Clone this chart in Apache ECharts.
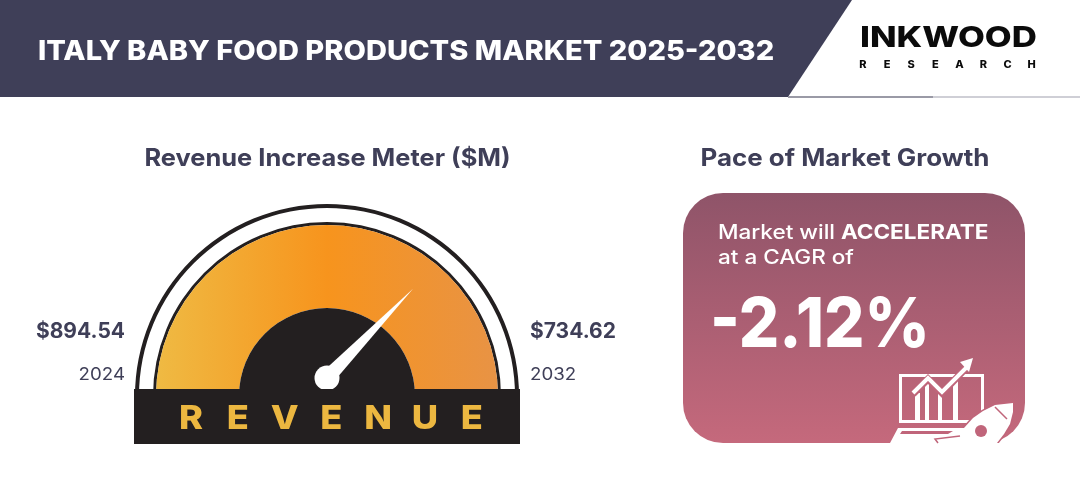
<!DOCTYPE html>
<html>
<head>
    <meta charset="utf-8">
    <title>Italy Baby Food Products Market 2025-2032</title>
    <script src="https://cdn.jsdelivr.net/npm/echarts@6/dist/echarts.min.js"></script>
    <style>
        html, body { margin: 0; padding: 0; background: #fff; }
        #chart { width: 1080px; height: 500px; }
    </style>
</head>
<body>
<div id="chart"></div>
<script type="text/javascript">
    // data
    var years = ['2024', '2032'];
    var revenueValues = [894.54, 734.62];
    var cagrValue = [-2.12];
    var needleValue = [74.4]; // position on the 0-100 meter

    var mainTitle = 'ITALY BABY FOOD PRODUCTS MARKET 2025-2032';
    var meterTitle = 'Revenue Increase Meter ($M)';
    var paceTitle = 'Pace of Market Growth';
    var meterWord = 'REVENUE';
    var logoSmall = 'RESEARCH';

    var dark = '#231f20';
    var slate = '#3f3f58';
    var rose = '#c0657a';
    var font = 'Inter';

    var myChart = echarts.init(document.getElementById('chart'));

    // text helper, the scale stretches Inter out to the wider look of the original
    function label(x, y, text, size, weight, color, align, z, scale) {
        return {
            type: 'text', z: z || 5, silent: true,
            x: x, y: y, scaleX: scale || 1,
            style: {
                x: 0, y: 0, text: text, fill: color, align: align || 'left', verticalAlign: 'middle',
                fontFamily: font, fontSize: size, fontWeight: weight
            }
        };
    }

    // one meter arc of the gauge, the shared bits
    function arc(radius, width, color, z) {
        return {
            type: 'gauge',
            center: [327, 396],
            radius: radius,
            startAngle: 180,
            endAngle: 0,
            min: 0,
            max: 100,
            z: z,
            silent: true,
            axisLine: { show: true, lineStyle: { width: width, color: [[1, color]] } },
            axisTick: { show: false },
            splitLine: { show: false },
            axisLabel: { show: false },
            pointer: { show: false },
            anchor: { show: false },
            title: { show: false },
            detail: { show: false },
            data: [{ value: needleValue[0] }]
        };
    }

    var rocket = [[960, 443], [964, 428], [973, 418], [983, 411], [995, 405], [1013, 403], [1013, 412], [1010, 424], [1004, 434], [997, 443]];

    var graphics = [
        // header band
        { type: 'polygon', z: 1, silent: true, shape: { points: [[0, 0], [852, 0], [788, 97], [0, 97]] }, style: { fill: slate } },
        { type: 'rect', z: 1, silent: true, shape: { x: 788, y: 96, width: 145, height: 2 }, style: { fill: '#9a9aa6' } },
        { type: 'rect', z: 1, silent: true, shape: { x: 933, y: 96, width: 147, height: 2 }, style: { fill: '#cfcfd6' } },
        label(38, 52, mainTitle, 27, 800, '#fff', 'left', 5, 1.075),
        label(860, 38, 'INKWOOD', 29, 800, '#0b0b0b', 'left', 5, 1.2),

        label(327.5, 159, meterTitle, 24, 700, slate, 'center', 5, 1.06),
        label(845, 159, paceTitle, 24, 700, slate, 'center', 5, 1.08),

        // revenue labels either side of the meter
        label(125, 332, '$' + revenueValues[0].toFixed(2), 21, 700, slate, 'right'),
        label(125, 375, years[0], 17, 400, slate, 'right', 5, 1.1),
        label(530, 332, '$' + revenueValues[1].toFixed(2), 21, 700, slate, 'left'),
        label(530, 375, years[1], 17, 400, slate, 'left', 5, 1.1),

        // black bar under the meter
        { type: 'rect', z: 20, silent: true, shape: { x: 134, y: 389, width: 386, height: 55 }, style: { fill: dark } },

        // growth panel
        {
            type: 'rect', z: 1, silent: true,
            shape: { x: 683, y: 193, width: 342, height: 250, r: 40 },
            style: {
                fill: new echarts.graphic.LinearGradient(0, 0, 0, 1, [
                    { offset: 0, color: '#8f5469' },
                    { offset: 1, color: '#c5697c' }
                ])
            }
        },
        {
            type: 'text', z: 5, silent: true,
            x: 718, y: 233, scaleX: 1.125,
            style: {
                x: 0, y: 0, text: '{a|Market will }{b|ACCELERATE}',
                verticalAlign: 'middle', fill: '#fff', fontFamily: font, fontSize: 20,
                rich: {
                    a: { fontFamily: font, fontSize: 20, fontWeight: 500, fill: '#fff' },
                    b: { fontFamily: font, fontSize: 20, fontWeight: 700, fill: '#fff' }
                }
            }
        },
        label(718, 258, 'at a CAGR of', 20, 500, '#fff', 'left', 5, 1.125),
        label(710, 326, cagrValue[0].toFixed(2) + '%', 69, 800, '#fff', 'left', 5, 0.92),

        // laptop and rocket icon
        { type: 'rect', z: 3, silent: true, shape: { x: 900.5, y: 375.5, width: 82, height: 46 }, style: { fill: 'none', stroke: '#fff', lineWidth: 3 } },
        { type: 'rect', z: 3, silent: true, shape: { x: 915, y: 393, width: 5, height: 27 }, style: { fill: '#fff' } },
        { type: 'rect', z: 3, silent: true, shape: { x: 925, y: 382, width: 4, height: 38 }, style: { fill: '#fff' } },
        { type: 'rect', z: 3, silent: true, shape: { x: 938, y: 390, width: 4, height: 30 }, style: { fill: '#fff' } },
        { type: 'rect', z: 3, silent: true, shape: { x: 953, y: 376, width: 5, height: 44 }, style: { fill: '#fff' } },
        { type: 'polyline', z: 4, silent: true, shape: { points: [[913, 394], [928, 379], [942, 393], [967, 367]] }, style: { fill: 'none', stroke: rose, lineWidth: 7 } },
        { type: 'polyline', z: 4, silent: true, shape: { points: [[913, 393], [928, 378], [942, 392], [967, 367]] }, style: { fill: 'none', stroke: '#fff', lineWidth: 4 } },
        { type: 'polygon', z: 4, silent: true, shape: { points: [[973, 358], [960, 362], [969, 372]] }, style: { fill: '#fff' } },
        // rocket halo cuts into the screen, the base goes over it
        { type: 'polygon', z: 4, silent: true, shape: { points: rocket }, style: { fill: rose, stroke: rose, lineWidth: 3 } },
        { type: 'rect', z: 5, silent: true, shape: { x: 950, y: 443, width: 60, height: 4 }, style: { fill: '#fff' } },
        { type: 'polygon', z: 5, silent: true, shape: { points: [[898, 428], [965, 428], [965, 443], [890, 443]] }, style: { fill: '#fff' } },
        { type: 'polygon', z: 6, silent: true, shape: { points: [[902, 431], [953, 431], [948, 434], [900, 434]] }, style: { fill: rose } },
        { type: 'polygon', z: 6, silent: true, shape: { points: rocket }, style: { fill: '#fff' } },
        { type: 'polyline', z: 7, silent: true, shape: { points: [[960, 436], [935, 439], [938, 443]] }, style: { fill: 'none', stroke: rose, lineWidth: 1.5 } },
        { type: 'polyline', z: 7, silent: true, shape: { points: [[995, 407], [1007, 419]] }, style: { fill: 'none', stroke: rose, lineWidth: 1.5 } },
        { type: 'circle', z: 7, silent: true, shape: { cx: 981, cy: 431, r: 6 }, style: { fill: rose } }
    ];

    // spaced out words, one letter at a time
    meterWord.split('').forEach(function (ch, i) {
        graphics.push(label(191 + 46.8 * i, 419.5, ch, 33, 800, '#ecb740', 'center', 21, 1.1));
    });
    logoSmall.split('').forEach(function (ch, i) {
        graphics.push(label(863 + 24.1 * i, 64.5, ch, 10, 800, '#0b0b0b', 'center', 5, 1.1));
    });

    var orange = new echarts.graphic.LinearGradient(0, 0, 1, 0, [
        { offset: 0, color: '#efba43' },
        { offset: 0.5, color: '#f7941d' },
        { offset: 1, color: '#e89345' }
    ]);

    var needle = arc(124, 1, 'transparent', 10);
    needle.center = [327, 378];
    needle.axisLine.show = false;
    needle.pointer = {
        show: true,
        icon: 'triangle',
        length: 124,
        width: 15,
        offsetCenter: [0, 0],
        itemStyle: { color: '#fff' }
    };
    needle.anchor = { show: true, showAbove: true, size: 25, itemStyle: { color: '#fff' } };

    myChart.setOption({
        animation: false,
        backgroundColor: '#fff',
        graphic: { elements: graphics },
        series: [
            arc(192, 4, dark, 2),
            arc(174, 3, dark, 3),
            arc(171, 83, orange, 4),
            arc(88, 88, dark, 5),
            needle
        ]
    });
</script>
</body>
</html>
